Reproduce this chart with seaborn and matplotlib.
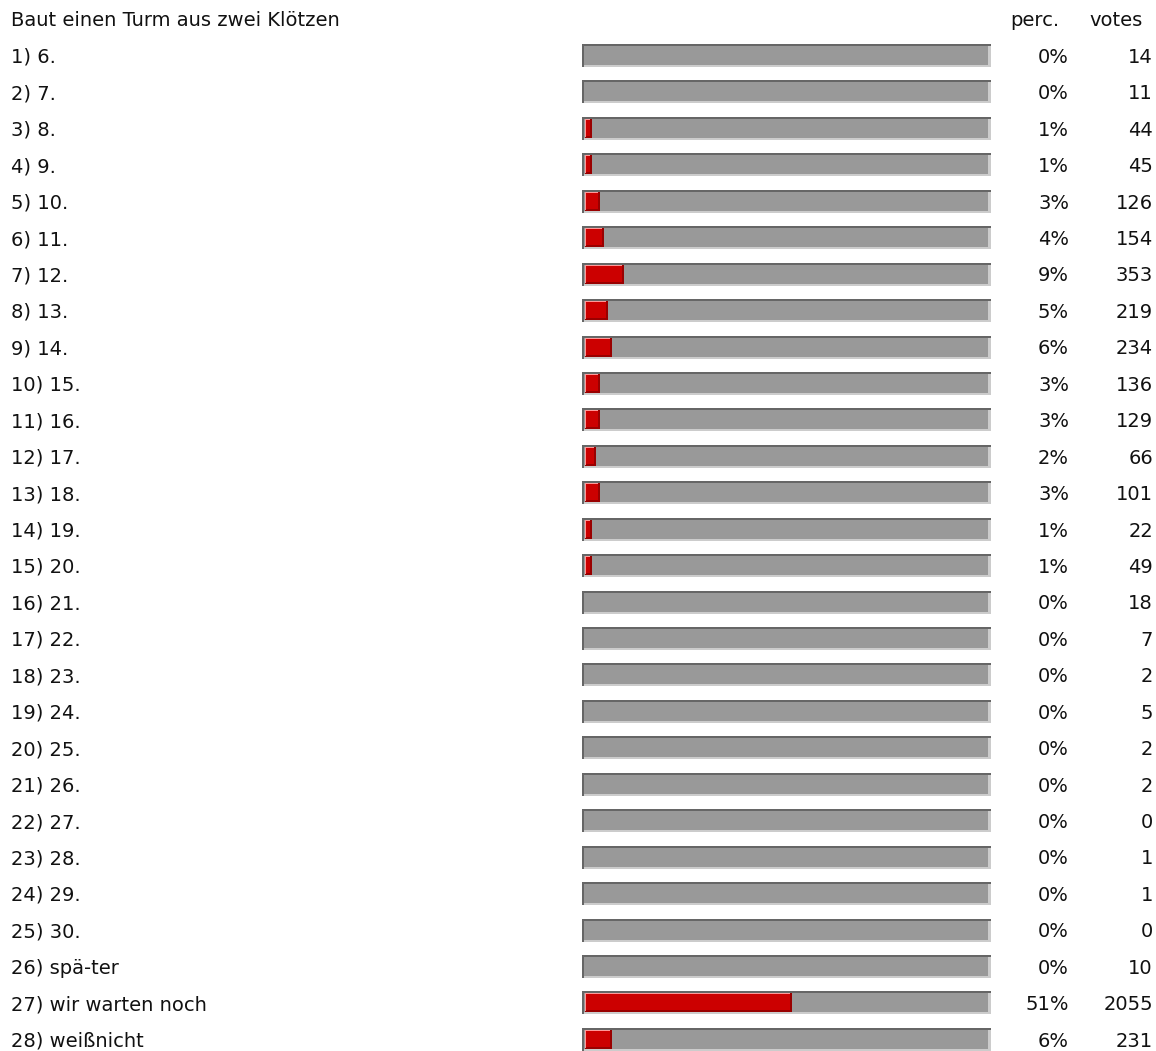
"""
Poll result chart: 'Baut einen Turm aus zwei Klötzen' as horizontal percentage bars.
"""

import matplotlib
matplotlib.use("Agg")
import matplotlib.pyplot as plt
from matplotlib.patches import Rectangle
import seaborn as sns

# ─────────────────────────────────────────────
# DATA
# ─────────────────────────────────────────────

title = "Baut einen Turm aus zwei Klötzen"

options = [
    "1) 6.", "2) 7.", "3) 8.", "4) 9.", "5) 10.", "6) 11.", "7) 12.",
    "8) 13.", "9) 14.", "10) 15.", "11) 16.", "12) 17.", "13) 18.",
    "14) 19.", "15) 20.", "16) 21.", "17) 22.", "18) 23.", "19) 24.",
    "20) 25.", "21) 26.", "22) 27.", "23) 28.", "24) 29.", "25) 30.",
    "26) spä-ter", "27) wir warten noch", "28) weißnicht",
]
perc = [0, 0, 1, 1, 3, 4, 9, 5, 6, 3, 3, 2, 3, 1, 1,
        0, 0, 0, 0, 0, 0, 0, 0, 0, 0, 0, 51, 6]
votes = [14, 11, 44, 45, 126, 154, 353, 219, 234, 136, 129, 66, 101, 22, 49,
         18, 7, 2, 5, 2, 2, 0, 1, 1, 0, 10, 2055, 231]

# ─────────────────────────────────────────────
# LAYOUT (pixels)
# ─────────────────────────────────────────────

W, H = 1156, 1051
ROW0, STEP = 55.5, 36.44          # centre of first row, row spacing
YLIM = ((H - ROW0) / STEP, -ROW0 / STEP)
GRAY_L, GRAY_W = 582, 409
RED_L, RED_W = 585, 400           # 100% == 400 px, bevel added outside
BAR_H = 23 / STEP
RED_H = 19 / STEP
FS = 14
BASE = 7.3 / STEP                 # baseline offset below row centre
TXT = "#111111"

plt.rcParams["font.family"] = ["DejaVu Sans"]

fig = plt.figure(figsize=(W / 100, H / 100), dpi=100)
fig.patch.set_facecolor("white")

ax_txt = fig.add_axes([0, 0, 1, 1])
ax_gray = fig.add_axes([GRAY_L / W, 0, GRAY_W / W, 1])
ax_red = fig.add_axes([RED_L / W, 0, RED_W / W, 1])

# ── background (100%) bars ────────────────────────────────────────
sns.barplot(x=[100] * len(options), y=options, ax=ax_gray,
            color="#999999", width=BAR_H, saturation=1, linewidth=0)

# ── value bars ────────────────────────────────────────────────────
sns.barplot(x=perc, y=options, ax=ax_red,
            color="#cc0000", width=RED_H, saturation=1, linewidth=0)

for ax in (ax_gray, ax_red):
    ax.set_xlim(0, 100)
    ax.set_ylim(*YLIM)
    ax.axis("off")
    ax.patch.set_alpha(0)

# bevel borders on the gray bars
px_x = 100 / GRAY_W
px_y = 1 / STEP
for p in list(ax_gray.patches):
    x0, y0 = p.get_x(), p.get_y()
    w, h = p.get_width(), p.get_height()
    ax_gray.add_patch(Rectangle((x0 + 2 * px_x, y0 + h - 2 * px_y), w - 2 * px_x, 2 * px_y,
                                color="#cccccc", lw=0))
    ax_gray.add_patch(Rectangle((x0 + w - 3 * px_x, y0), 3 * px_x, h,
                                color="#cccccc", lw=0))
    ax_gray.add_patch(Rectangle((x0, y0), w, 2 * px_y, color="#666666", lw=0))
    ax_gray.add_patch(Rectangle((x0, y0), 2 * px_x, h, color="#666666", lw=0))

# bevel borders on the red bars (right edge sits just past the value)
px_x = 100 / RED_W
for p in list(ax_red.patches):
    x0, y0 = p.get_x(), p.get_y()
    w, h = p.get_width(), p.get_height()
    if w <= 0:
        continue
    ax_red.add_patch(Rectangle((x0 + w, y0), 1 * px_x, h, color="#cc0000", lw=0))
    ax_red.add_patch(Rectangle((x0, y0 + h - 2 * px_y), w + 1 * px_x, 2 * px_y,
                               color="#990000", lw=0))
    ax_red.add_patch(Rectangle((x0 + w + 1 * px_x, y0), 2 * px_x, h, color="#990000", lw=0))
    ax_red.add_patch(Rectangle((x0, y0), w + 1 * px_x, 1 * px_y, color="#ff9999", lw=0))
    ax_red.add_patch(Rectangle((x0, y0), 1 * px_x, h - 1 * px_y, color="#ff9999", lw=0))

# ── text columns ──────────────────────────────────────────────────
ax_txt.set_xlim(0, W)
ax_txt.set_ylim(*YLIM)
ax_txt.axis("off")
ax_txt.patch.set_alpha(0)
ax_txt.set_zorder(3)

ax_txt.text(11, -1 + BASE, title, ha="left", va="baseline", fontsize=FS, color=TXT)
ax_txt.text(1059, -1 + BASE, "perc.", ha="right", va="baseline", fontsize=FS, color=TXT)
ax_txt.text(1143, -1 + BASE, "votes", ha="right", va="baseline", fontsize=FS, color=TXT)

for i, (lab, p, v) in enumerate(zip(options, perc, votes)):
    ax_txt.text(11, i + BASE, lab, ha="left", va="baseline", fontsize=FS, color=TXT)
    ax_txt.text(1069, i + BASE, f"{p}%", ha="right", va="baseline", fontsize=FS, color=TXT)
    ax_txt.text(1153, i + BASE, f"{v}", ha="right", va="baseline", fontsize=FS, color=TXT)

fig.savefig("out.png", dpi=100, facecolor="white")
plt.close(fig)
